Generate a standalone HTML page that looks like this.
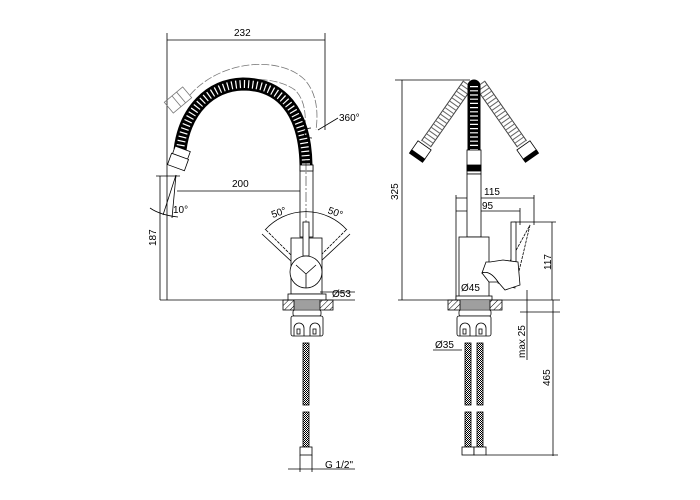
<!DOCTYPE html>
<html><head><style>
body{margin:0;background:#fff}
svg{display:block}
text{font-family:"Liberation Sans",sans-serif;font-size:10px;fill:#000}
</style></head><body>
<svg width="700" height="500" viewBox="0 0 700 500" xmlns="http://www.w3.org/2000/svg">
<defs>
<pattern id="h" width="4" height="4" patternUnits="userSpaceOnUse" patternTransform="rotate(45)"><line x1="0" y1="0" x2="0" y2="4" stroke="#000" stroke-width="1"/></pattern>
<pattern id="br" width="2" height="2" patternUnits="userSpaceOnUse"><rect width="1" height="1" fill="#000"/><rect x="1" y="1" width="1" height="1" fill="#000"/></pattern>
</defs>
<g fill="none" stroke="#000" stroke-width="0.8">
<!-- LEFT VIEW dims -->
<line x1="167" y1="33" x2="167" y2="300"/>
<line x1="325" y1="33" x2="325" y2="130"/>
<line x1="167" y1="40" x2="325" y2="40"/>
<line x1="177" y1="191" x2="306" y2="191"/>
<line x1="160" y1="176" x2="160" y2="300"/>
<line x1="156" y1="176" x2="180" y2="176"/>
<line x1="160" y1="300" x2="355" y2="300"/>
<line x1="176" y1="175" x2="163" y2="215"/>
<line x1="176" y1="175" x2="172" y2="218"/>
<path d="M150,208 Q160,215 178,217"/>
<!-- ghost hose -->
<path d="M190,95 C220,60 280,55 305,80 C318,95 318,115 316,130" stroke="#777" stroke-dasharray="8,2"/>
<path d="M196,104 C220,78 270,72 295,90 C305,100 306,115 305,128" stroke="#777" stroke-dasharray="8,2"/>
<g transform="rotate(-40 178 100)" stroke="#777"><rect x="166" y="93" width="24" height="14"/><line x1="176" y1="93" x2="176" y2="107"/><line x1="182" y1="93" x2="182" y2="107"/></g>
<!-- hose -->
<path d="M180,150 C185,110 210,85 243,84 C280,84 305,110 306,165" stroke="#000" stroke-width="13"/>
<path d="M180,150 C185,110 210,85 243,84 C280,84 305,110 306,165" stroke="#fff" stroke-width="8" stroke-dasharray="1.2,3"/>
<g transform="rotate(20 178 162)"><rect x="170" y="148" width="16" height="8" fill="#fff"/><rect x="169" y="156" width="18" height="12" fill="#fff"/></g>
<path d="M311,128 A6,4 0 1 0 312,138"/>
<line x1="318" y1="130" x2="338" y2="118"/>
<!-- stem/body -->
<rect x="300" y="165" width="13" height="72" fill="#fff"/>
<rect x="300" y="165" width="13" height="6" fill="#fff"/>
<line x1="306" y1="160" x2="306" y2="300" stroke-dasharray="10,2,2,2" stroke-width="0.5"/>
<path d="M265,230 A55,55 0 0 1 347,230"/>
<line x1="262" y1="234" x2="292" y2="262"/><line x1="266" y1="230" x2="294" y2="258" stroke-dasharray="3,1"/>
<line x1="350" y1="234" x2="320" y2="262"/><line x1="346" y1="230" x2="318" y2="258" stroke-dasharray="3,1"/>
<rect x="291" y="238" width="31" height="56" fill="#fff"/>
<rect x="303" y="222" width="6" height="34" fill="#fff"/>
<circle cx="306" cy="272" r="16" fill="#fff"/>
<path d="M296,265 L306,274 L316,265 M306,274 L306,288"/>
<rect x="288" y="294" width="38" height="6" fill="#fff"/>
<line x1="320" y1="292" x2="355" y2="292"/>
<!-- base -->
<rect x="283" y="300" width="50" height="10" fill="url(#h)"/>
<rect x="294" y="300" width="26" height="10" fill="#fff"/>
<path d="M294,302h26M294,304h26M294,306h26M294,308h26"/>
<rect x="293" y="310" width="28" height="6" rx="2" fill="#fff"/>
<rect x="291" y="316" width="32" height="20" rx="2" fill="#fff"/>
<path d="M294,336 v-8 a5,5 0 0 1 10,0 v8 M310,336 v-8 a5,5 0 0 1 10,0 v8"/>
<rect x="297" y="329" width="3" height="5"/><rect x="313" y="329" width="3" height="5"/>
<rect x="303" y="343" width="6" height="62" fill="url(#br)"/>
<rect x="303" y="412" width="6" height="35" fill="url(#br)"/>
<rect x="300" y="447" width="12" height="8" fill="#fff"/>
<line x1="300" y1="455" x2="300" y2="472"/><line x1="312" y1="455" x2="312" y2="472"/>
<line x1="288" y1="469" x2="355" y2="469"/>
<!-- RIGHT VIEW -->
<line x1="395" y1="80" x2="470" y2="80"/>
<line x1="402" y1="80" x2="402" y2="300"/>
<line x1="398" y1="300" x2="560" y2="300"/>
<line x1="456" y1="195" x2="456" y2="300"/>
<line x1="456" y1="198" x2="534" y2="198"/><line x1="534" y1="195" x2="534" y2="225"/>
<line x1="456" y1="211" x2="520" y2="211"/><line x1="520" y1="208" x2="520" y2="225"/>
<line x1="514" y1="222" x2="556" y2="222"/>
<line x1="552" y1="222" x2="552" y2="300"/>
<line x1="527" y1="290" x2="527" y2="360"/><line x1="520" y1="312" x2="560" y2="312"/>
<line x1="553" y1="300" x2="553" y2="456"/>
<line x1="486" y1="455" x2="558" y2="455"/>
<line x1="433" y1="350" x2="462" y2="350"/>
<!-- ghost hoses -->
<path d="M468,84 L426,144" stroke="#444" stroke-width="12"/>
<path d="M480,84 L522,144" stroke="#444" stroke-width="12"/>
<path d="M468,84 L426,144" stroke="#fff" stroke-width="10"/>
<path d="M480,84 L522,144" stroke="#fff" stroke-width="10"/>
<path d="M468,84 L426,144" stroke="#666" stroke-width="10" stroke-dasharray="1,3"/>
<path d="M480,84 L522,144" stroke="#666" stroke-width="10" stroke-dasharray="1,3"/>
<g transform="rotate(35 420 152)"><rect x="412" y="144" width="16" height="13" fill="#fff"/><rect x="412" y="155" width="16" height="4" fill="#000"/></g>
<g transform="rotate(-35 528 152)"><rect x="520" y="144" width="16" height="13" fill="#fff"/><rect x="520" y="155" width="16" height="4" fill="#000"/></g>
<path d="M474,86 L474,150" stroke="#000" stroke-width="13" stroke-linecap="round"/>
<path d="M474,86 L474,150" stroke="#fff" stroke-width="8" stroke-dasharray="1.2,3"/>
<rect x="467" y="150" width="14" height="24" fill="#fff"/>
<rect x="467" y="165" width="14" height="6" fill="#000"/>
<rect x="467" y="174" width="14" height="63" fill="#fff"/>
<rect x="459" y="237" width="30" height="60" fill="#fff"/>
<path d="M530,225 L515,288 L498,283 Z" stroke-dasharray="3,1"/>
<rect x="511" y="222" width="5" height="46" fill="#fff"/>
<path d="M490,262 L503,260 L518,262 L520,285 L505,290 L498,282 Q490,270 482,273 L486,262 Z" fill="#fff"/>
<path d="M482,273 Q490,270 498,282 L489,282 Z" fill="#fff"/>
<rect x="456" y="296" width="36" height="4" fill="#fff"/>
<rect x="448" y="300" width="54" height="10" fill="url(#h)"/>
<rect x="460" y="300" width="30" height="10" fill="#fff"/>
<path d="M460,302h30M460,304h30M460,306h30M460,308h30"/>
<rect x="459" y="310" width="32" height="6" rx="2" fill="#fff"/>
<rect x="457" y="316" width="34" height="20" rx="2" fill="#fff"/>
<path d="M460,336 v-8 a5,5 0 0 1 10,0 v8 M476,336 v-8 a5,5 0 0 1 10,0 v8"/>
<rect x="463" y="329" width="3" height="5"/><rect x="479" y="329" width="3" height="5"/>
<rect x="465" y="343" width="6" height="62" fill="url(#br)"/>
<rect x="465" y="412" width="6" height="35" fill="url(#br)"/>
<rect x="477" y="343" width="6" height="62" fill="url(#br)"/>
<rect x="477" y="412" width="6" height="35" fill="url(#br)"/>
<rect x="462" y="447" width="12" height="8" fill="#fff"/><rect x="474" y="447" width="12" height="8" fill="#fff"/>
</g>
<text x="234" y="36">232</text>
<text x="339" y="121">360°</text>
<text x="232" y="187">200</text>
<text x="173" y="213">10°</text>
<text x="271" y="216" transform="rotate(-20 278 212)">50°</text>
<text x="328" y="216" transform="rotate(20 336 212)">50°</text>
<text x="332" y="297">Ø53</text>
<text x="325" y="468">G 1/2"</text>
<text transform="translate(156,246) rotate(-90)">187</text>
<text transform="translate(398,200) rotate(-90)">325</text>
<text x="484" y="195">115</text>
<text x="482" y="209">95</text>
<text transform="translate(551,270) rotate(-90)">117</text>
<text x="461" y="291">Ø45</text>
<text x="435" y="348">Ø35</text>
<text transform="translate(525,358) rotate(-90)">max 25</text>
<text transform="translate(550,386) rotate(-90)">465</text>
</svg>
</body></html>
